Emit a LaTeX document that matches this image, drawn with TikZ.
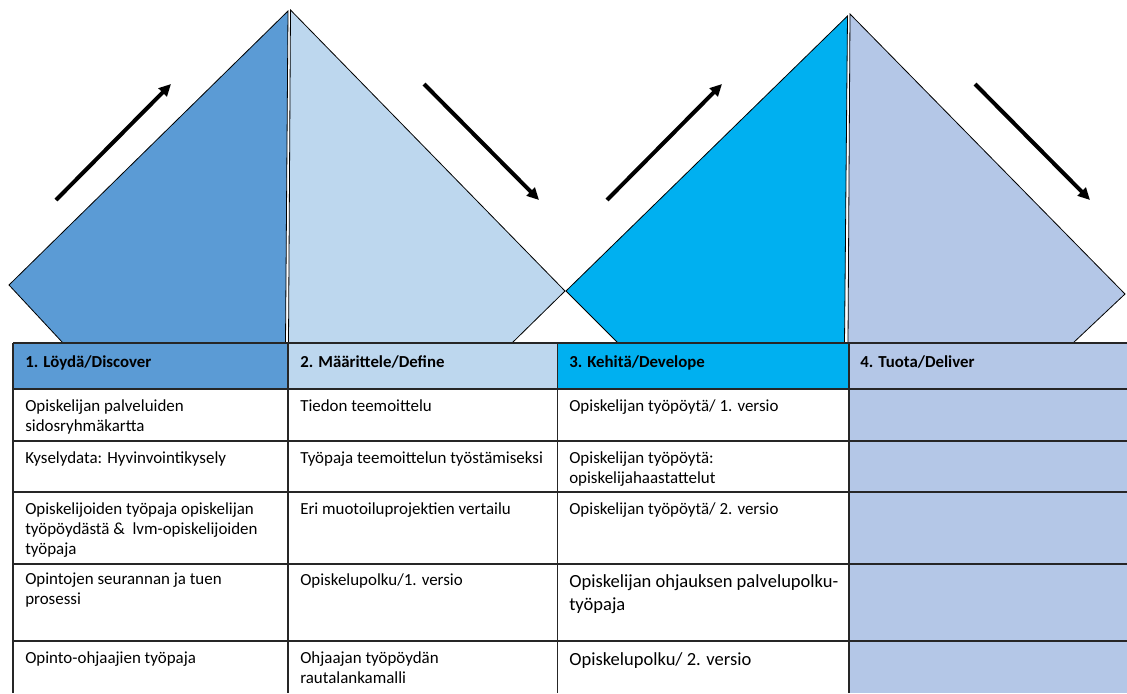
\documentclass[tikz,border=0pt]{standalone}
\usepackage{fontspec}
\setmainfont{Carlito}
\usetikzlibrary{arrows.meta}
\definecolor{cOne}{HTML}{5B9BD5}
\definecolor{cTwo}{HTML}{BDD7EE}
\definecolor{cThree}{HTML}{00B0F0}
\definecolor{cFour}{HTML}{B4C7E7}
\definecolor{gridc}{HTML}{262626}
\tikzset{
  half/.style={draw=black, line width=0.6pt, line join=miter},
  gridline/.style={draw=gridc, line width=1.3pt},
  flowarrow/.style={line width=3pt, -{Triangle[length=9pt,width=8.5pt]}},
  celltext/.style={anchor=north west, inner sep=0pt, align=left, text=black,
    font=\fontsize{12.7}{15}\selectfont},
  bigtext/.style={anchor=north west, inner sep=0pt, align=left, text=black,
    font=\fontsize{13.9}{17.3}\selectfont},
  headtext/.style={anchor=north west, inner sep=0pt, align=left, text=black,
    font=\fontsize{12.6}{15}\selectfont\bfseries},
}
\begin{document}
\begin{tikzpicture}[x=0.75pt,y=-0.75pt]
\useasboundingbox (0,0) rectangle (1127,693);
\fill[white] (0,0) rectangle (1127,693);

% diamonds (halves)
\filldraw[half, fill=cOne]   (9,285) -- (288,11) -- (285.5,343) -- (63,343) -- cycle;
\filldraw[half, fill=cTwo]   (290.5,10) -- (565,291) -- (512,343) -- (288.5,343) -- cycle;
\filldraw[half, fill=cThree] (566,291) -- (847.5,16) -- (844.5,343) -- (618,343) -- cycle;
\filldraw[half, fill=cFour]  (850,14) -- (1125,294) -- (1073,343) -- (848,343) -- cycle;

% arrows
\coordinate (a1s) at (56,200);  \coordinate (a1e) at (171,84);
\coordinate (a2s) at (424,84);  \coordinate (a2e) at (539,200);
\coordinate (a3s) at (607,200); \coordinate (a3e) at (722,84);
\coordinate (a4s) at (975,84);  \coordinate (a4e) at (1090,200);
\draw[flowarrow] (a1s) -- (a1e);
\draw[flowarrow] (a2s) -- (a2e);
\draw[flowarrow] (a3s) -- (a3e);
\draw[flowarrow] (a4s) -- (a4e);

% table fills
\fill[white] (13,389) rectangle (849,693);
\fill[cOne]   (13,343) rectangle (288,389);
\fill[cTwo]   (288,343) rectangle (557.5,389);
\fill[cThree] (557.5,343) rectangle (849,389);
\fill[cFour]  (849,343) rectangle (1127,693);

% grid
\foreach \yy in {343,389,441,492,564,641}
  \draw[gridline] (13,\yy) -- (1127,\yy);
\foreach \xx in {13,288,557.5,849}
  \draw[gridline] (\xx,343) -- (\xx,693);

% headers
\node[headtext] (h1) at (25,355) {1. Löydä/Discover};
\node[headtext] (h2) at (300,355) {2. Määrittele/Define};
\node[headtext] (h3) at (569,355) {3. Kehitä/Develope};
\node[headtext] (h4) at (860,355) {4. Tuota/Deliver};

% column 1
\node[celltext] (t11) at (25,399) {Opiskelijan palveluiden\\sidosryhmäkartta};
\node[celltext] (t12) at (25,451) {Kyselydata: Hyvinvointikysely};
\node[celltext] (t13) at (25,502) {Opiskelijoiden työpaja opiskelijan\\työpöydästä \&\ \ lvm-opiskelijoiden\\työpaja};
\node[celltext] (t14) at (25,573) {Opintojen seurannan ja tuen\\prosessi};
\node[celltext] (t15) at (25,651) {Opinto-ohjaajien työpaja};

% column 2
\node[celltext] (t21) at (300,399) {Tiedon teemoittelu};
\node[celltext] (t22) at (300,451) {Työpaja teemoittelun työstämiseksi};
\node[celltext] (t23) at (300,502) {Eri muotoiluprojektien vertailu};
\node[celltext] (t24) at (300,573) {Opiskelupolku/1. versio};
\node[celltext] (t25) at (300,651) {Ohjaajan työpöydän\\rautalankamalli};

% column 3
\node[celltext] (t31) at (569,399) {Opiskelijan työpöytä/ 1. versio};
\node[celltext] (t32) at (569,451) {Opiskelijan työpöytä:\\opiskelijahaastattelut};
\node[celltext] (t33) at (569,502) {Opiskelijan työpöytä/ 2. versio};
\node[bigtext]  (t34) at (569,574) {Opiskelijan ohjauksen palvelupolku-\\työpaja};
\node[bigtext]  (t35) at (569,652) {Opiskelupolku/ 2. versio};
\end{tikzpicture}
\end{document}
